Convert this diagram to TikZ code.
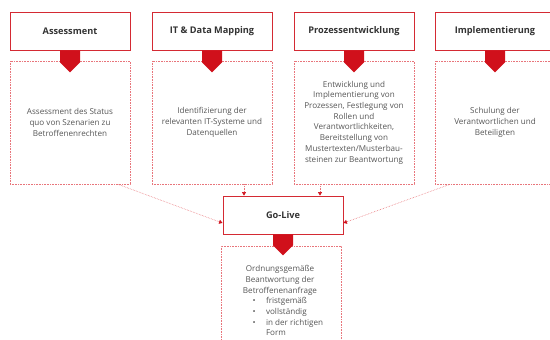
\documentclass[tikz,border=0pt]{standalone}
\usepackage{fontspec}
\setmainfont{Open Sans}
\usetikzlibrary{arrows.meta,calc}
\definecolor{dred}{HTML}{D0101B}
\definecolor{bred}{HTML}{D42A33}
\definecolor{pred}{HTML}{E8757B}
\definecolor{tgray}{HTML}{555555}
\tikzset{
  head/.style={draw=bred, line width=0.9pt, fill=white, minimum width=120pt, minimum height=38pt, font=\fontsize{9.2}{11}\selectfont\bfseries, text=black!80, inner sep=0pt},
  detail/.style={draw=pred, line width=0.6pt, densely dotted, minimum width=120pt, minimum height=123pt, inner sep=0pt},
  dtext/.style={font=\fontsize{8.1}{10.7}\selectfont, text=tgray, align=center},
  conn/.style={draw=pred, line width=0.6pt, densely dotted, -{Triangle[length=3.5pt,width=4pt,fill=dred,color=dred]}},
  chev/.style={fill=dred, draw=none}
}
\newcommand{\chevron}[2]{\fill[chev] ($(#1)+(-10,0)$) -- ++(20,0) -- ++(0,#2) -- ++(-10,10) -- ++(-10,-10) -- cycle;}
\begin{document}
\begin{tikzpicture}[x=1pt,y=-1pt]
\useasboundingbox (0,0) rectangle (550,340);
\clip (0,0) rectangle (550,340);
% detail boxes
\node[detail] (d1) at (70,122.5) {};
\node[detail] (d2) at (212,122.5) {};
\node[detail] (d3) at (354,122.5) {};
\node[detail] (d4) at (495,122.5) {};
\node[dtext] (t1) at (d1) {Assessment des Status\\quo von Szenarien zu\\Betroffenenrechten};
\node[dtext] (t2) at (d2) {Identifizierung der\\relevanten IT-Systeme und\\Datenquellen};
\node[dtext] (t3) at (d3) {Entwicklung und\\Implementierung von\\Prozessen, Festlegung von\\Rollen und\\Verantwortlichkeiten,\\Bereitstellung von\\Mustertexten/Musterbau-\\steinen zur Beantwortung};
\node[dtext] (t4) at (d4) {Schulung der\\Verantwortlichen und\\Beteiligten};
% headers
\node[head] (h1) at (70,31) {Assessment};
\node[head] (h2) at (212,31) {IT \& Data Mapping};
\node[head] (h3) at (354,31) {Prozessentwicklung};
\node[head] (h4) at (495,31) {Implementierung};
\chevron{h1.south}{12}
\chevron{h2.south}{12}
\chevron{h3.south}{12}
\chevron{h4.south}{12}
% go-live
\node[detail, minimum height=120pt] (f) at (281,306) {};
\node[head, minimum width=120pt] (g) at (283,215) {Go-Live};
\chevron{g.south}{11}
\node[dtext, anchor=north] (ft) at (280,262) {Ordnungsgemäße\\Beantwortung der\\Betroffenenanfrage};
\node[dtext, anchor=north west, align=left] (fl) at (249,294) {\makebox[13.5pt][l]{•}fristgemäß\\\makebox[13.5pt][l]{•}vollständig\\\makebox[13.5pt][l]{•}in der richtigen\\\makebox[13.5pt][l]{}Form};
% connectors
\draw[conn] ($(d2.south)+(32,0)$) -- ($(g.north)+(-39,0)$);
\draw[conn] ($(d3.south)+(-34,0)$) -- ($(g.north)+(37,0)$);
\draw[conn] ($(d1.south)+(48,0)$) -- ($(g.west)+(0,8)$);
\draw[conn] ($(d4.south)+(-45,0)$) -- ($(g.east)+(0,8)$);
\end{tikzpicture}
\end{document}
